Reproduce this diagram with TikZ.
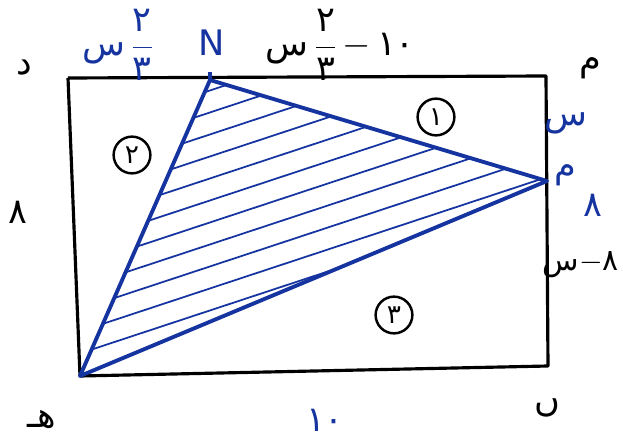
\documentclass[tikz,border=0pt]{standalone}
\usepackage{fontspec}
\newfontfamily\arabicfont[Script=Arabic]{DejaVu Sans}
\usepackage{tikz}
\usetikzlibrary{positioning}
\definecolor{pen}{RGB}{22,52,160}
\tikzstyle{letter} = [font=\arabicfont\fontsize{20}{24}\selectfont, text=black, inner sep=1pt]
\tikzstyle{penletter} = [letter, text=pen]
\tikzstyle{region} = [circle, draw=black, line width=1.4pt, inner sep=3pt, font=\arabicfont\fontsize{15}{18}\selectfont]
\tikzstyle{edge} = [line width=1.8pt, black, line join=round]
\tikzstyle{cut} = [line width=2.2pt, pen, line join=round]
\tikzstyle{hatch} = [line width=1pt, pen]

\begin{document}
\begin{tikzpicture}[x=0.02cm, y=-0.02cm]
  \useasboundingbox (0,0) rectangle (623,439);
  % rectangle corners and the two cut points
  \coordinate (D) at (68,78);
  \coordinate (P) at (546,76);
  \coordinate (B) at (548,366);
  \coordinate (H) at (80,376);
  \coordinate (N) at (210,80);
  \coordinate (M) at (547,181);

  \draw[edge] (D) -- (P) -- (B) -- (H) -- (D);

  % hatched triangle
  \begin{scope}
    \clip (H) -- (N) -- (M) -- cycle;
    \foreach \y in {118,140,...,475}
      \draw[hatch] (60,\y) -- ++(560,-185);
  \end{scope}
  \draw[cut] (H) -- (N) -- (M) -- cycle;
  \draw[cut, line width=1.8pt] (N) -- ++(0,-8);

  % corner letters
  \node[letter] (lD) at (24,68) {د};
  \node[letter] (lP) at (590,68) {م};
  \node[letter] (lB) at (547,408) {ں};
  \node[letter] (lH) at (42,420) {هـ};

  % cut point letters
  \node[penletter] (lN) at (212,43) {N};
  \node[penletter] (lM) at (565,175) {م};

  % lengths
  \node[penletter] (dn) at (118,45) {س\,$\displaystyle\frac{\hbox{٢}}{\hbox{٣}}$};
  \node[letter] (nm) at (340,45) {س\,$\displaystyle\frac{\hbox{٢}}{\hbox{٣}}$\,$-$\,١٠};
  \node[penletter] (pm) at (566,123) {س};
  \node[penletter] (mb) at (593,205) {٨};
  \node[letter, anchor=east, font=\arabicfont\fontsize{17}{20}\selectfont] (mb2) at (621,265) {س$-$٨};
  \node[letter] (dh) at (18,212) {٨};
  \node[penletter] (hb) at (325,420) {١٠};

  % region numbers
  \node[region] (r1) at (436,117) {١};
  \node[region] (r2) at (132,155) {٢};
  \node[region] (r3) at (394,315) {٣};
\end{tikzpicture}
\end{document}
